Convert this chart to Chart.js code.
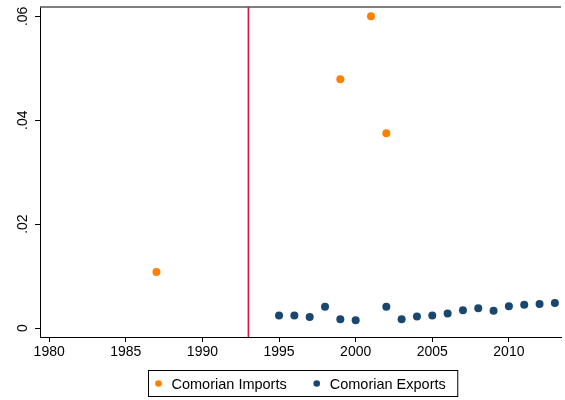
<!DOCTYPE html>
<html><head><meta charset="utf-8">
<script src="https://cdn.jsdelivr.net/npm/chart.js@4.4.1/dist/chart.umd.min.js"></script>
<style>html,body{margin:0;padding:0;background:#fff}#wrap{width:565px;height:400px}</style>
</head><body><div id="wrap"><canvas id="c" width="565" height="400"></canvas></div>
<script>
const importYears = [1987, 1999, 2001, 2002];
const importValues = [0.0108, 0.0479, 0.0600, 0.0375];
const exportYears = [1995, 1996, 1997, 1998, 1999, 2000, 2002, 2003, 2004, 2005, 2006, 2007, 2008, 2009, 2010, 2011, 2012, 2013];
const exportValues = [0.0024, 0.0024, 0.0021, 0.0041, 0.0017, 0.0015, 0.0041, 0.0017, 0.0022, 0.0024, 0.0028, 0.0034, 0.0038, 0.0033, 0.0042, 0.0045, 0.0046, 0.0048];
const xTicks = [1980, 1985, 1990, 1995, 2000, 2005, 2010];
const yTicks = [0, 0.02, 0.04, 0.06];
const yTickLabels = ['0', '.02', '.04', '.06'];
const markerYear = 1993;
const seriesNames = ['Comorian Imports', 'Comorian Exports'];
const seriesColors = ['#ff8000', '#1a476f'];
const FONT = "'Liberation Sans', Arial, sans-serif";

const extras = {
  id: 'extras',
  beforeDatasetsDraw(chart) {
    const {ctx, chartArea} = chart;
    const x = chart.scales.x.getPixelForValue(markerYear);
    ctx.save();
    ctx.strokeStyle = '#d8153f';
    ctx.lineWidth = 1.6;
    ctx.beginPath();
    ctx.moveTo(x, chartArea.top);
    ctx.lineTo(x, chartArea.bottom);
    ctx.stroke();
    ctx.restore();
  },
  afterDraw(chart) {
    const {ctx, chartArea} = chart;
    ctx.save();
    ctx.strokeStyle = '#555';
    ctx.lineWidth = 1.6;
    ctx.beginPath();
    ctx.moveTo(chartArea.left, chartArea.top);
    ctx.lineTo(chartArea.right, chartArea.top);
    ctx.stroke();
    ctx.font = '14.5px ' + FONT;
    const w = seriesNames.map(s => ctx.measureText(s).width);
    const padL = 10, mk = 13, gap = 30, padR = 12;
    const total = padL + mk + w[0] + gap + mk + w[1] + padR;
    const cx = (chartArea.left + chartArea.right) / 2 + 2.5;
    const left = Math.round(cx - total / 2) + 0.5;
    const top = chartArea.bottom + 33.5;
    const h = 26;
    ctx.strokeStyle = '#000';
    ctx.lineWidth = 1;
    ctx.strokeRect(left, top, total, h);
    const cy = top + h / 2;
    let x = left + padL;
    for (let i = 0; i < 2; i++) {
      ctx.fillStyle = seriesColors[i];
      ctx.beginPath();
      ctx.arc(x, cy, 3.3, 0, Math.PI * 2);
      ctx.fill();
      ctx.fillStyle = '#000';
      ctx.textBaseline = 'middle';
      ctx.textAlign = 'left';
      ctx.fillText(seriesNames[i], x + mk, cy + 1);
      x += mk + w[i] + gap;
    }
    ctx.restore();
  }
};

function noPad(s) { s.paddingTop = 0; s.paddingBottom = 0; s.paddingLeft = 0; s.paddingRight = 0; }

new Chart(document.getElementById('c'), {
  type: 'scatter',
  data: {
    datasets: [
      { label: seriesNames[0], data: importYears.map((y, i) => ({x: y, y: importValues[i]})),
        backgroundColor: seriesColors[0], borderWidth: 0, pointRadius: 4, pointHoverRadius: 4 },
      { label: seriesNames[1], data: exportYears.map((y, i) => ({x: y, y: exportValues[i]})),
        backgroundColor: seriesColors[1], borderWidth: 0, pointRadius: 4, pointHoverRadius: 4 }
    ]
  },
  options: {
    responsive: false,
    animation: false,
    devicePixelRatio: 1,
    layout: { padding: { top: 7, right: 1, left: 0, bottom: 0 } },
    plugins: { legend: { display: false }, tooltip: { enabled: false } },
    scales: {
      x: {
        type: 'linear', position: 'bottom', min: 1979.4, max: 2013.4,
        grid: { drawOnChartArea: false, tickLength: 5, color: '#000', tickColor: '#000' },
        border: { color: '#000', width: 1 },
        ticks: { color: '#000', font: { family: FONT, size: 14 }, padding: 2, autoSkip: false, maxRotation: 0,
                 callback: v => String(v) },
        afterBuildTicks: s => { s.ticks = xTicks.map(v => ({value: v})); },
        afterFit: s => { s.height = 63; noPad(s); }
      },
      y: {
        type: 'linear', position: 'left', min: -0.00173, max: 0.0618,
        grid: { drawOnChartArea: false, tickLength: 5, color: '#000', tickColor: '#000' },
        border: { color: '#000', width: 1 },
        ticks: { color: '#000', font: { family: FONT, size: 14 }, padding: 2, autoSkip: false,
                 minRotation: 90, maxRotation: 90, crossAlign: 'center',
                 callback: (v, i) => yTickLabels[i] },
        afterBuildTicks: s => { s.ticks = yTicks.map(v => ({value: v})); },
        afterFit: s => { s.width = 40; noPad(s); }
      }
    }
  },
  plugins: [extras]
});
</script>
</body></html>
